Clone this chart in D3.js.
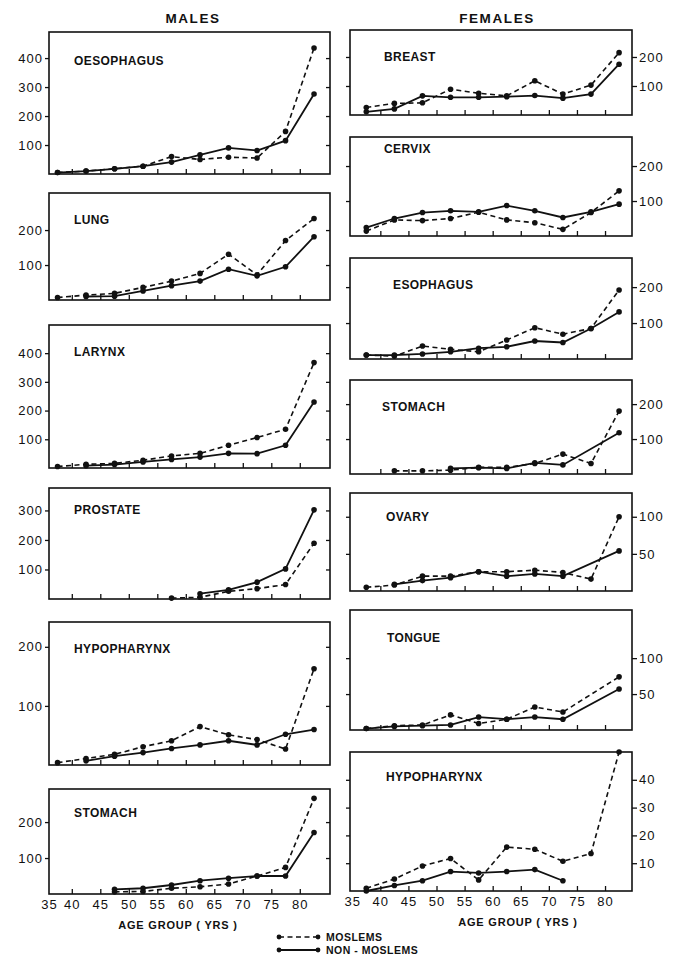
<!DOCTYPE html>
<html>
<head>
<meta charset="utf-8">
<script src="https://cdn.jsdelivr.net/npm/d3@7"></script>
<style>
  body { margin: 0; background: #fff; }
  svg { display: block; }
  text { font-family: "Liberation Sans", Arial, sans-serif; fill: #111; }
</style>
</head>
<body>
<div id="chart"></div>
<script>
// age group midpoints (yrs) and axis ticks
const ageGroups = [37.5, 42.5, 47.5, 52.5, 57.5, 62.5, 67.5, 72.5, 77.5, 82.5];
const ageTicks = [35, 40, 45, 50, 55, 60, 65, 70, 75, 80];

// MALES: rates per age group, Moslems / Non-Moslems
const oesophagusMos = [5, 10, 18, 27, 60, 50, 58, 55, 147, 435];
const oesophagusNon = [5, 10, 18, 27, 41, 66, 90, 81, 115, 276];
const lungMos = [7, 14, 19, 36, 54, 76, 131, 72, 170, 233];
const lungNon = [null, 10, 11, 26, 41, 54, 88, 69, 95, 181];
const larynxMos = [5, 13, 16, 27, 42, 51, 79, 106, 135, 367];
const larynxNon = [null, 8, 12, 21, 30, 38, 51, 50, 79, 230];
const prostateMos = [null, null, null, null, 3, 6, 26, 35, 49, 189];
const prostateNon = [null, null, null, null, null, 18, 31, 57, 102, 302];
const mHypopharynxMos = [4, 11, 18, 31, 41, 65, 51, 43, 27, 163];
const mHypopharynxNon = [null, 7, 15, 21, 28, 34, 41, 34, 52, 60];
const mStomachMos = [null, null, 6, 7, 16, 20, 28, 50, 74, 266];
const mStomachNon = [null, null, 13, 16, 25, 37, 44, 50, 50, 171];

// FEMALES
const breastMos = [26, 40, 42, 89, 75, 66, 118, 72, 103, 215];
const breastNon = [11, 21, 66, 61, 61, 63, 67, 58, 72, 175];
const cervixMos = [14, 46, 44, 50, 68, 46, 38, 19, 67, 129];
const cervixNon = [24, 50, 67, 72, 69, 87, 72, 53, 69, 91];
const esophagusMos = [11, 8, 36, 27, 20, 53, 87, 69, 85, 192];
const esophagusNon = [11, 11, 14, 20, 30, 34, 50, 46, 85, 131];
const fStomachMos = [null, 9, 9, 11, 19, 19, 30, 57, 30, 180];
const fStomachNon = [null, null, null, 16, 18, 16, 32, 26, null, 118];
const ovaryMos = [5, 8, 20, 20, 26, 26, 28, 25, 16, 100];
const ovaryNon = [null, 9, 14, 18, 26, 20, 23, 20, null, 54];
const tongueMos = [2, 6, 7, 21, 9, 15, 32, 25, null, 74];
const tongueNon = [2, 5, 6, 7, 18, 15, 18, 15, null, 57];
const fHypopharynxMos = [1, 4.3, 9, 11.7, 4, 15.8, 15, 10.7, 13.5, 50];
const fHypopharynxNon = [0, 2, 3.7, 7, 6.5, 7, 7.7, 3.7, null, null];

const legendLabels = ['MOSLEMS', 'NON - MOSLEMS'];

// layout
const width = 675, height = 958;
const columns = {
    left: { x0: 49, x1: 330, domain: [36, 85.3], title: 'MALES', titleX: 193, labelX: 74, axisX: 178 },
    right: { x0: 350, x1: 632, domain: [34.6, 84.8], title: 'FEMALES', titleX: 497, labelX: 384, axisX: 518 }
};

const panels = [
    { col: 'left', name: 'OESOPHAGUS', mos: oesophagusMos, non: oesophagusNon, top: 32, bottom: 174, yMax: 490, ticks: [100, 200, 300, 400], labelDy: 33 },
    { col: 'left', name: 'LUNG', mos: lungMos, non: lungNon, top: 193, bottom: 300, yMax: 306, ticks: [100, 200], labelDy: 31 },
    { col: 'left', name: 'LARYNX', mos: larynxMos, non: larynxNon, top: 325, bottom: 468, yMax: 498, ticks: [100, 200, 300, 400], labelDy: 31 },
    { col: 'left', name: 'PROSTATE', mos: prostateMos, non: prostateNon, top: 488, bottom: 599, yMax: 376, ticks: [100, 200, 300], labelDy: 26 },
    { col: 'left', name: 'HYPOPHARYNX', mos: mHypopharynxMos, non: mHypopharynxNon, top: 622, bottom: 765, yMax: 242, ticks: [100, 200], labelDy: 31 },
    { col: 'left', name: 'STOMACH', mos: mStomachMos, non: mStomachNon, top: 789, bottom: 894, yMax: 292, ticks: [100, 200], labelDy: 28, xLabels: true },
    { col: 'right', name: 'BREAST', mos: breastMos, non: breastNon, top: 30, bottom: 115, yMax: 293, ticks: [100, 200], labelDy: 31 },
    { col: 'right', name: 'CERVIX', mos: cervixMos, non: cervixNon, top: 137, bottom: 236, yMax: 283, ticks: [100, 200], labelDy: 16 },
    { col: 'right', name: 'ESOPHAGUS', mos: esophagusMos, non: esophagusNon, top: 258, bottom: 359, yMax: 281, ticks: [100, 200], labelDy: 31, labelDx: 9 },
    { col: 'right', name: 'STOMACH', mos: fStomachMos, non: fStomachNon, top: 380, bottom: 474, yMax: 269, ticks: [100, 200], labelDy: 31, labelDx: -2 },
    { col: 'right', name: 'OVARY', mos: ovaryMos, non: ovaryNon, top: 493, bottom: 591, yMax: 132, ticks: [50, 100], labelDy: 28, labelDx: 2 },
    { col: 'right', name: 'TONGUE', mos: tongueMos, non: tongueNon, top: 610, bottom: 730, yMax: 167, ticks: [50, 100], labelDy: 32, labelDx: 3 },
    { col: 'right', name: 'HYPOPHARYNX', mos: fHypopharynxMos, non: fHypopharynxNon, top: 752, bottom: 891, yMax: 50, ticks: [10, 20, 30, 40], labelDy: 29, labelDx: 2, xLabels: true }
];

const svg = d3.select('#chart').append('svg')
    .attr('width', width)
    .attr('height', height);

const dash = '5,3.5';

// column titles
Object.values(columns).forEach(c => {
    svg.append('text')
        .attr('x', c.titleX).attr('y', 23)
        .attr('text-anchor', 'middle')
        .attr('font-size', 13.5).attr('font-weight', 'bold')
        .attr('letter-spacing', 1.6)
        .text(c.title);
});

panels.forEach(p => {
    const c = columns[p.col];
    const x = d3.scaleLinear().domain(c.domain).range([c.x0, c.x1]).clamp(true);
    const y = d3.scaleLinear().domain([0, p.yMax]).range([p.bottom, p.top]);
    const g = svg.append('g');

    // y axes: labelled side outward, opposite side short ticks
    const labelled = p.col === 'left'
        ? d3.axisLeft(y).tickValues(p.ticks).tickSize(4).tickPadding(2)
        : d3.axisRight(y).tickValues(p.ticks).tickSize(5).tickPadding(2);
    g.append('g')
        .attr('transform', 'translate(' + (p.col === 'left' ? c.x0 : c.x1) + ',0)')
        .call(labelled)
        .call(a => a.select('.domain').remove())
        .call(a => a.selectAll('text').attr('font-size', 13).attr('letter-spacing', 1).attr('fill', '#111'));
    g.append('g')
        .attr('transform', 'translate(' + (p.col === 'left' ? c.x1 : c.x0) + ',0)')
        .call(d3.axisLeft(y).tickValues(p.ticks).tickSize(4).tickFormat(''))
        .call(a => a.select('.domain').remove());

    // inward x ticks
    g.append('g')
        .attr('transform', 'translate(0,' + p.bottom + ')')
        .call(d3.axisTop(x).tickValues(ageTicks.slice(1)).tickSize(5).tickFormat(''))
        .call(a => a.select('.domain').remove());

    if (p.xLabels) {
        g.append('g')
            .attr('transform', 'translate(0,' + p.bottom + ')')
            .call(d3.axisBottom(x).tickValues(ageTicks).tickSize(0).tickPadding(6))
            .call(a => a.select('.domain').remove())
            .call(a => a.selectAll('text').attr('font-size', 13).attr('letter-spacing', 1).attr('fill', '#111'));
        svg.append('text')
            .attr('x', c.axisX).attr('y', p.bottom + 35)
            .attr('text-anchor', 'middle')
            .attr('font-size', 11).attr('font-weight', 'bold')
            .attr('letter-spacing', 0.8)
            .text('AGE  GROUP ( YRS )');
    }

    g.selectAll('.tick line').attr('stroke', '#111').attr('stroke-width', 1.3);

    // frame
    g.append('rect')
        .attr('x', c.x0).attr('y', p.top)
        .attr('width', c.x1 - c.x0).attr('height', p.bottom - p.top)
        .attr('fill', 'none').attr('stroke', '#111').attr('stroke-width', 1.6);

    g.append('text')
        .attr('x', c.labelX + (p.labelDx || 0)).attr('y', p.top + p.labelDy)
        .attr('font-size', 12).attr('font-weight', 'bold')
        .attr('letter-spacing', 0.4)
        .text(p.name);

    // missing age groups are skipped, the line joins the neighbours
    const series = [
        { values: p.non, dash: null },
        { values: p.mos, dash: dash }
    ];
    series.forEach(s => {
        const pts = s.values.map((v, i) => ({ age: ageGroups[i], v })).filter(d => d.v != null);
        g.append('path')
            .datum(pts)
            .attr('d', d3.line().x(d => x(d.age)).y(d => y(d.v)))
            .attr('fill', 'none')
            .attr('stroke', '#111')
            .attr('stroke-width', s.dash ? 1.6 : 1.8)
            .attr('stroke-dasharray', s.dash);
        g.selectAll(null)
            .data(pts)
            .join('circle')
            .attr('cx', d => x(d.age))
            .attr('cy', d => y(d.v))
            .attr('r', 2.8)
            .attr('fill', '#111');
    });
});

// legend
const legendX = d3.scaleLinear().domain([0, 1]).range([279, 318]);
const legendY = d3.scalePoint().domain(legendLabels).range([937, 950]);
legendLabels.forEach((label, i) => {
    const lg = svg.append('g');
    lg.append('line')
        .attr('x1', legendX(0)).attr('x2', legendX(1))
        .attr('y1', legendY(label)).attr('y2', legendY(label))
        .attr('stroke', '#111').attr('stroke-width', i === 0 ? 1.6 : 1.8)
        .attr('stroke-dasharray', i === 0 ? dash : null);
    lg.selectAll('circle')
        .data([0, 1])
        .join('circle')
        .attr('cx', d => legendX(d))
        .attr('cy', legendY(label))
        .attr('r', 2.4)
        .attr('fill', '#111');
    lg.append('text')
        .attr('x', legendX(1) + 8).attr('y', legendY(label) + 4)
        .attr('font-size', 10.5).attr('font-weight', 'bold')
        .attr('letter-spacing', 0.5)
        .text(label);
});
</script>
</body>
</html>
